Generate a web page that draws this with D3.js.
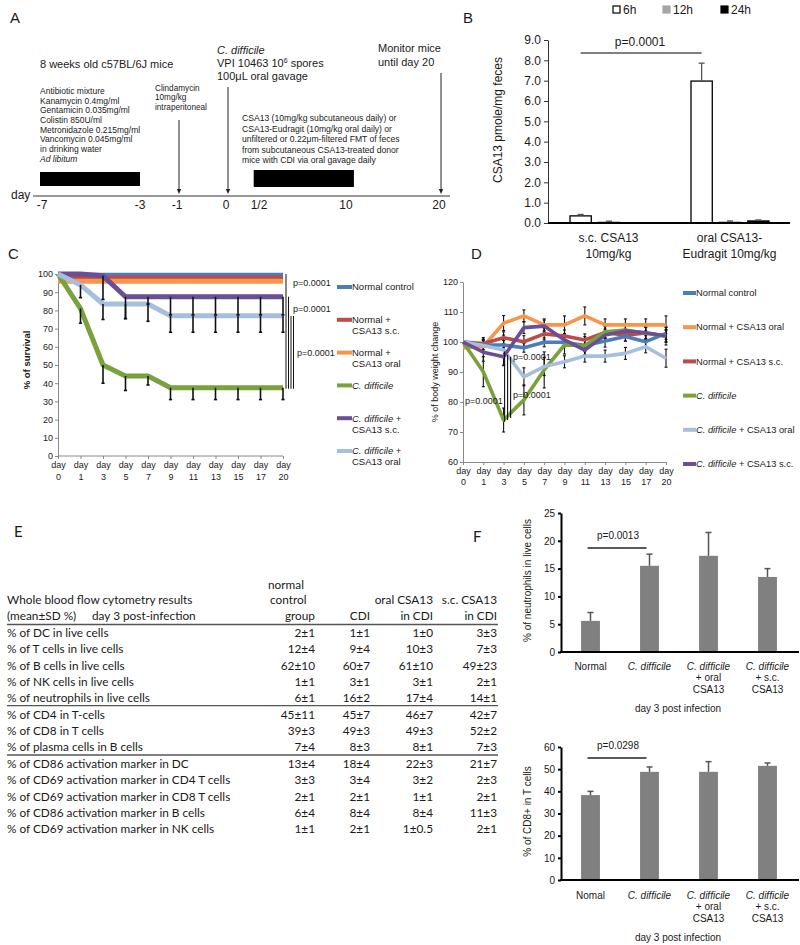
<!DOCTYPE html>
<html><head><meta charset="utf-8">
<script src="https://cdn.jsdelivr.net/npm/d3@7"></script>
<style>
body{margin:0;background:#fff}
svg{display:block}
text{font-family:"Liberation Sans",Arial,sans-serif;fill:#1a1a1a}
</style>
</head><body>
<svg id="fig" width="800" height="945"></svg>
<script>
// ================= DATA =================
// Panel A (timeline)
const timelineDays   = [-7, -3, -1, 0, 0.5, 10, 20];
const timelineLabels = ["-7", "-3", "-1", "0", "1/2", "10", "20"];
const antibioticLines = ["Antibiotic mixture","Kanamycin 0.4mg/ml","Gentamicin 0.035mg/ml","Colistin 850U/ml","Metronidazole 0.215mg/ml","Vancomycin 0.045mg/ml","in drinking water","Ad libitum"];
const clindaLines = ["Clindamycin","10mg/kg","intraperitoneal"];
const treatLines = ["CSA13 (10mg/kg subcutaneous daily) or","CSA13-Eudragit (10mg/kg oral daily) or","unfiltered or 0.22\u03bcm-filtered FMT of feces","from subcutaneous CSA13-treated donor","mice with CDI via oral gavage daily"];
const periodStart = [-7, 0.45];
const periodEnd   = [-3, 10.85];
const arrowDays   = [-1, 0, 20];

// Panel B
const bGroups = ["s.c. CSA13|10mg/kg", "oral CSA13-|Eudragit 10mg/kg"];
const bSeries = ["6h", "12h", "24h"];
const b6h  = [0.35, 6.98], b6hSD  = [0.07, 0.88];
const b12h = [0.05, 0.05], b12hSD = [0.04, 0.05];
const b24h = [0.01, 0.10], b24hSD = [0.00, 0.05];
const bTicks = [0,1,2,3,4,5,6,7,8,9];

// Panel C (survival)
const days = ["0","1","3","5","7","9","11","13","15","17","20"];
const survNormal   = [99.3,99.3,99.3,99.3,99.3,99.3,99.3,99.3,99.3,99.3,99.3];
const survNormalSC = [97.8,97.8,97.8,97.8,97.8,97.8,97.8,97.8,97.8,97.8,97.8];
const survNormalOr = [96,96,96,96,96,96,96,96,96,96,96];
const survCD       = [100,81,50,44,44,37.5,37.5,37.5,37.5,37.5,37.5];
const survCDSC     = [100,100,99,87.5,87.5,87.5,87.5,87.5,87.5,87.5,87.5];
const survCDOr     = [100,94,83.5,83.5,83.5,77,77,77,77,77,77];
const survCDErr    = [0,8,10,8,5,6.5,6.5,6.5,6.5,6.5,6.5];
const survCDSCErr  = [0,0,13,12,4,10,10,10,10,10,10];
const survCDOrErr  = [0,7,8.5,8,9.5,9,9,9,9,9,9];
const yTicksC = [0,10,20,30,40,50,60,70,80,90,100];

// Panel D (body weight)
const weightNames = ["Normal control","Normal + CSA13 oral","Normal + CSA13 s.c.","C. difficile","C. difficile + CSA13 oral","C. difficile + CSA13 s.c."];
const wNormal   = [100,99,99,98.1,99.9,99.9,98.8,100.3,101.8,100.1,102.9];
const wNormalOr = [98,98.5,106.3,108.7,105.7,105.7,108.7,105.7,105.7,105.7,105.7];
const wNormalSC = [100,99.5,101.4,100.1,102.7,102,100.7,103.2,102.3,103,102];
const wCD       = [100,90.1,74,80.7,90.7,99,98.8,103.4,104,102.9,102];
const wCDOr     = [100,98.8,97.3,88.4,91.8,93.4,95.3,95.3,96.2,98.4,94.6];
const wCDSC     = [100,96.6,95.1,104.8,105.3,100.7,97.3,102.3,103.7,103.1,102];
const wNormalErr   = [0,2,1.5,1.5,1.5,1.5,2,2,1.5,2,2];
const wNormalOrErr = [0,2,2.5,2,2,3,3,2,2,2,3];
const wNormalSCErr = [0,2,2,2,2,2,2,2,2,2,3];
const wCDErr       = [0,5,4,5,6,3,3,2,2,2,2];
const wCDOrErr     = [0,2,5,3,3,2,2,2,2,2,3];
const wCDSCErr     = [0,3,3,2,2,2,2,2,2,2,2];
const yTicksD = [60,70,80,90,100,110,120];

// Panel E (table)
const tableRows = ["% of DC in live cells","% of T cells in live cells","% of B cells in live cells","% of NK cells in live cells","% of neutrophils in live cells","% of CD4 in T-cells","% of CD8 in T cells","% of plasma cells in B cells","% of CD86 activation marker in DC","% of CD69 activation marker in CD4 T cells","% of CD69 activation marker in CD8 T cells","% of CD86 activation marker in B cells","% of CD69 activation marker in NK cells"];
const colNormal = ["2\u00b11","12\u00b14","62\u00b110","1\u00b11","6\u00b11","45\u00b111","39\u00b13","7\u00b14","13\u00b14","3\u00b13","2\u00b11","6\u00b14","1\u00b11"];
const colCDI    = ["1\u00b11","9\u00b14","60\u00b17","3\u00b11","16\u00b12","45\u00b17","49\u00b13","8\u00b13","18\u00b14","3\u00b14","2\u00b11","8\u00b14","2\u00b11"];
const colOral   = ["1\u00b10","10\u00b13","61\u00b110","3\u00b11","17\u00b14","46\u00b17","49\u00b13","8\u00b11","22\u00b13","3\u00b12","1\u00b11","8\u00b14","1\u00b10.5"];
const colSC     = ["3\u00b13","7\u00b13","49\u00b123","2\u00b11","14\u00b11","42\u00b17","52\u00b12","7\u00b13","21\u00b17","2\u00b13","2\u00b11","11\u00b13","2\u00b11"];
const tableSeparatorsAfter = [4, 7];

// Panel F
const fCats  = ["Normal","C. difficile","C. difficile|+ oral|CSA13","C. difficile|+ s.c.|CSA13"];
const fCats2 = ["Nomal","C. difficile","C. difficile|+ oral|CSA13","C. difficile|+ s.c.|CSA13"];
const neutro   = [5.6, 15.5, 17.3, 13.5];
const neutroSD = [1.5, 2.1, 4.2, 1.5];
const cd8      = [38.3, 48.8, 48.8, 51.5];
const cd8SD    = [1.7, 2.2, 4.6, 1.3];
const yTicksF1 = [0,5,10,15,20,25];
const yTicksF2 = [0,10,20,30,40,50,60];

// ================= DRAW =================
const svg = d3.select("#fig");
const col = {blue:"#4a7ebb", red:"#be4b48", orange:"#f7964a", green:"#79a23d", purple:"#6b4f96", light:"#a7bfdf"};

function label(g, x, y, s, o={}) {
  const t = g.append("text").attr("x", x).attr("y", y).attr("dy","0.35em")
    .attr("font-size", o.size || 10).attr("text-anchor", o.anchor || "start");
  if (o.family) t.style("font-family", o.family);
  if (o.weight) t.attr("font-weight", o.weight);
  if (o.italic) t.attr("font-style","italic");
  if (o.rotate) t.attr("transform", `rotate(-90,${x},${y})`);
  rich(t, s);
  return t;
}
function rich(t, s) {
  if (s.startsWith("C. difficile")) {
    t.append("tspan").attr("font-style","italic").text("C. difficile");
    const rest = s.slice(12);
    if (rest) t.append("tspan").text(rest);
  } else t.text(s);
}
function errBar(g, x, y1, y2, cap, color, w) {
  g.append("line").attr("x1",x).attr("x2",x).attr("y1",y1).attr("y2",y2).attr("stroke",color).attr("stroke-width",w||1.2);
  g.append("line").attr("x1",x-cap).attr("x2",x+cap).attr("y1",y2).attr("y2",y2).attr("stroke",color).attr("stroke-width",w||1.2);
}

// Panel letters
label(svg, 10, 18, "A", {size:15});
label(svg, 463, 18, "B", {size:15});
label(svg, 8, 254, "C", {size:15});
label(svg, 471, 254, "D", {size:15});
label(svg, 14, 532, "E", {size:15, family:"Lato"});
label(svg, 473, 537, "F", {size:15, family:"Lato"});

// ---------- Panel A ----------
{
  const g = svg.append("g");
  const xA = d3.scaleLinear().domain(timelineDays).range([42,140,177,226,259,346,439]);
  const axisY = 196;
  g.append("line").attr("x1",33).attr("x2",450).attr("y1",axisY).attr("y2",axisY).attr("stroke","#333").attr("stroke-width",1);
  label(g, 11, axisY-1, "day", {size:12});
  timelineDays.forEach((d,i)=> label(g, xA(d), 205, timelineLabels[i], {size:12, anchor:"middle"}));
  periodStart.forEach((s,i)=>{
    g.append("rect").attr("x", xA(s)-2).attr("y", i===0?172:170).attr("width", xA(periodEnd[i])-xA(s)+2)
      .attr("height", i===0?14:17).attr("fill","#000");
  });
  const arrowTop = [120, 87, 73];
  arrowDays.forEach((d,i)=>{
    const x = xA(d)+2;
    g.append("line").attr("x1",x).attr("x2",x).attr("y1",arrowTop[i]).attr("y2",191).attr("stroke","#222").attr("stroke-width",1);
    g.append("path").attr("d",`M${x-2.2},189 L${x+2.2},189 L${x},194 Z`).attr("fill","#222");
  });
  label(g, 40, 64, "8 weeks old c57BL/6J mice", {size:11});
  antibioticLines.forEach((s,i)=> label(g, 40, 91+i*9.7, s, {size:8.5, italic: i===7}));
  clindaLines.forEach((s,i)=> label(g, 155, 88+i*9.6, s, {size:8.2}));
  label(g, 217, 50, "C. difficile", {size:11});
  const t = g.append("text").attr("x",217).attr("y",63).attr("dy","0.35em").attr("font-size",11);
  t.append("tspan").text("VPI 10463 10");
  t.append("tspan").attr("font-size",7).attr("dy","-0.5em").text("6");
  t.append("tspan").attr("dy","0.3em").text(" spores");
  label(g, 217, 76, "100\u03bcL oral gavage", {size:11});
  label(g, 378, 48, "Monitor mice", {size:11});
  label(g, 378, 62, "until day 20", {size:11});
  treatLines.forEach((s,i)=> label(g, 242, 118+i*10.5, s, {size:8.6}));
}

// ---------- Panel B ----------
{
  const g = svg.append("g");
  const yB = d3.scaleLinear().domain([0,9]).range([223,40]);
  const x0 = d3.scaleBand().domain(bGroups).range([548,790]);
  const x1 = d3.scaleBand().domain(bSeries).range([22,100]).paddingInner(0.25);
  const vals = {"6h":[b6h,b6hSD], "12h":[b12h,b12hSD], "24h":[b24h,b24hSD]};
  const fill = {"6h":"#fff","12h":"#a6a6a6","24h":"#000"};
  const stroke = {"6h":"#000","12h":"#a6a6a6","24h":"#000"};
  bGroups.forEach((grp,gi)=>{
    bSeries.forEach(s=>{
      const v = vals[s][0][gi], sd = vals[s][1][gi];
      const x = x0(grp)+x1(s);
      g.append("rect").attr("x",x).attr("width",x1.bandwidth()).attr("y",yB(v)).attr("height",yB(0)-yB(v))
        .attr("fill",fill[s]).attr("stroke",stroke[s]).attr("stroke-width",1.3);
      if (sd>0) errBar(g, x+x1.bandwidth()/2, yB(v), yB(v+sd), 3, "#555", 1.3);
    });
  });
  const ya = g.append("g").attr("transform","translate(548,0)").call(d3.axisLeft(yB).tickValues(bTicks).tickFormat(d3.format(".1f")).tickSize(4).tickSizeOuter(0));
  ya.select(".domain").attr("stroke","#333").attr("stroke-width",1);
  ya.selectAll(".tick line").attr("stroke","#333");
  ya.selectAll("text").attr("font-size",12).style("font-family",'"Liberation Sans",Arial').attr("fill","#1a1a1a").attr("x",-7);
  g.append("line").attr("x1",548).attr("x2",790).attr("y1",yB(0)).attr("y2",yB(0)).attr("stroke","#000").attr("stroke-width",2);
  bGroups.forEach(grp=>{
    const cx = x0(grp)+x0.bandwidth()/2;
    grp.split("|").forEach((s,i)=> label(g, cx, 238+i*16, s, {size:12, anchor:"middle"}));
  });
  label(g, 498, 120, "CSA13 pmole/mg feces", {size:12, anchor:"middle", rotate:true});
  const xa = x0(bGroups[0])+x1("6h")+x1.bandwidth()/2, xb = x0(bGroups[1])+x1("6h")+x1.bandwidth()/2;
  g.append("line").attr("x1",xa).attr("x2",xb).attr("y1",53).attr("y2",53).attr("stroke","#000").attr("stroke-width",1.2);
  label(g, 640, 42, "p=0.0001", {size:12, anchor:"middle"});
  const lx = [613, 663, 721];
  bSeries.forEach((s,i)=>{
    g.append("rect").attr("x",lx[i]).attr("y",6).attr("width",7).attr("height",7).attr("fill",fill[s]).attr("stroke",stroke[s]).attr("stroke-width",1.2);
    label(g, lx[i]+10, 10, s, {size:12});
  });
}

// ---------- Panel C ----------
{
  const g = svg.append("g");
  const yC = d3.scaleLinear().domain([0,100]).range([456,274]);
  const xC = d3.scalePoint().domain(days).range([58,283]);
  const ya = g.append("g").attr("transform","translate(58,0)").call(d3.axisLeft(yC).tickValues(yTicksC).tickSize(3).tickSizeOuter(0));
  ya.select(".domain").attr("stroke","#888");
  ya.selectAll(".tick line").attr("stroke","#888");
  ya.selectAll("text").attr("font-size",9).style("font-family",'"Liberation Sans",Arial').attr("fill","#1a1a1a").attr("x",-5);
  const xa = g.append("g").attr("transform","translate(0,456)").call(d3.axisBottom(xC).tickSize(3).tickSizeOuter(0));
  xa.select(".domain").attr("stroke","#888").attr("d","M58,0H283");
  xa.selectAll(".tick line").attr("stroke","#888");
  xa.selectAll(".tick text").each(function(d){
    const t = d3.select(this).text(null).attr("font-size",9).style("font-family",'"Liberation Sans",Arial').attr("fill","#1a1a1a").attr("y",0).attr("dy",null);
    t.append("tspan").attr("x",0).attr("y",12).text("day");
    t.append("tspan").attr("x",0).attr("y",24).text(d);
  });
  label(g, 27, 360, "% of survival", {size:9.5, anchor:"middle", rotate:true, weight:"bold"});
  const series = [
    [survNormal, col.blue, null],[survNormalSC, col.red, null],[survNormalOr, col.orange, null],
    [survCD, col.green, survCDErr],[survCDSC, col.purple, survCDSCErr],[survCDOr, col.light, survCDOrErr]];
  const line = d3.line().x((d,i)=>xC(days[i])).y(d=>yC(d));
  series.forEach(([vals,c])=>{
    g.append("path").attr("d",line(vals)).attr("fill","none").attr("stroke",c).attr("stroke-width",5).attr("stroke-linejoin","round");
  });
  series.forEach(([vals,c,err])=>{
    if (!err) return;
    vals.forEach((v,i)=>{ if (err[i]>0) errBar(g, xC(days[i]), yC(v), yC(v-err[i]), 1.6, "#111", 1.6); });
  });
  const sigTop = [100, 87.5, 77, 77];
  sigTop.forEach((t,i)=>{
    const x = xC("20")+3+i*2.5;
    g.append("line").attr("x1",x).attr("x2",x).attr("y1",yC(t)).attr("y2",yC(37.5)+1).attr("stroke","#111").attr("stroke-width",1);
  });
  label(g, 293, 283, "p=0.0001", {size:9});
  label(g, 293, 309, "p=0.0001", {size:9});
  label(g, 297, 353, "p=0.0001", {size:9});
  const legC = [["Normal control"],["Normal +","CSA13 s.c."],["Normal +","CSA13 oral"],["C. difficile"],["C. difficile +","CSA13 s.c."],["C. difficile +","CSA13 oral"]];
  const legColor = [col.blue,col.red,col.orange,col.green,col.purple,col.light];
  legC.forEach((lines,i)=>{
    const y = 287 + i*32.8;
    g.append("line").attr("x1",337).attr("x2",352).attr("y1",y).attr("y2",y).attr("stroke",legColor[i]).attr("stroke-width",4);
    lines.forEach((s,j)=> label(g, 352, y+j*11, s, {size:9.5}));
  });
}

// ---------- Panel D ----------
{
  const g = svg.append("g");
  const yD = d3.scaleLinear().domain([60,120]).range([462,282]);
  const xD = d3.scalePoint().domain(days).range([463,666]);
  const ya = g.append("g").attr("transform","translate(463,0)").call(d3.axisLeft(yD).tickValues(yTicksD).tickSize(3).tickSizeOuter(0));
  ya.select(".domain").attr("stroke","#888");
  ya.selectAll(".tick line").attr("stroke","#888");
  ya.selectAll("text").attr("font-size",9).style("font-family",'"Liberation Sans",Arial').attr("fill","#1a1a1a").attr("x",-5);
  const xa = g.append("g").attr("transform","translate(0,462)").call(d3.axisBottom(xD).tickSize(3).tickSizeOuter(0));
  xa.select(".domain").attr("stroke","#888");
  xa.selectAll(".tick line").attr("stroke","#888");
  xa.selectAll(".tick text").each(function(d){
    const t = d3.select(this).text(null).attr("font-size",9).style("font-family",'"Liberation Sans",Arial').attr("fill","#1a1a1a").attr("y",0).attr("dy",null);
    t.append("tspan").attr("x",0).attr("y",12).text("day");
    t.append("tspan").attr("x",0).attr("y",23).text(d);
  });
  label(g, 435, 372, "% of body weight change", {size:9, anchor:"middle", rotate:true});
  const series = [
    [wNormal, col.blue, wNormalErr],[wNormalOr, col.orange, wNormalOrErr],[wNormalSC, col.red, wNormalSCErr],
    [wCD, col.green, wCDErr],[wCDOr, col.light, wCDOrErr],[wCDSC, col.purple, wCDSCErr]];
  series.forEach(([vals,c,err])=>{
    vals.forEach((v,i)=>{ if (err[i]>0) {
      errBar(g, xD(days[i]), yD(v), yD(v+err[i]), 1.5, "#111", 1.1);
      errBar(g, xD(days[i]), yD(v), yD(v-err[i]), 1.5, "#111", 1.1);
    }});
  });
  const line = d3.line().x((d,i)=>xD(days[i])).y(d=>yD(d));
  const drawOrder = [1,2,0,3,4,5];
  drawOrder.forEach(k=>{
    const [vals,c] = series[k];
    g.append("path").attr("d",line(vals)).attr("fill","none").attr("stroke",c).attr("stroke-width",3.6).attr("stroke-linejoin","round");
  });
  const sig = [[96.8,73.4],[95.7,74],[95.1,74.7]];
  sig.forEach(([a,b],i)=>{
    const x = xD("3")+1+i*3;
    g.append("line").attr("x1",x).attr("x2",x).attr("y1",yD(a)).attr("y2",yD(b)).attr("stroke","#111").attr("stroke-width",1.1);
  });
  label(g, 513, 357, "p=0.0001", {size:9});
  label(g, 513, 395, "p=0.0001", {size:9});
  label(g, 465, 401, "p=0.0001", {size:9});
  const legColor = [col.blue,col.orange,col.red,col.green,col.light,col.purple];
  weightNames.forEach((s,i)=>{
    const y = 293 + i*34.2;
    g.append("line").attr("x1",683).attr("x2",696).attr("y1",y).attr("y2",y).attr("stroke",legColor[i]).attr("stroke-width",4);
    label(g, 696, y, s, {size:9.3});
  });
}

// ---------- Panel E ----------
{
  const g = svg.append("g");
  const fam = "Lato, Carlito, Calibri, sans-serif";
  const fs = 11.8;
  const rowY = i => 633 + i*16.2 + (i>=5?0.5:0) + (i>=8?1:0);
  label(g, 268, 585, "normal", {size:fs, family:fam});
  label(g, 270, 600, "control", {size:fs, family:fam});
  label(g, 315, 616, "group", {size:fs, family:fam, anchor:"end"});
  label(g, 370, 616, "CDI", {size:fs, family:fam, anchor:"end"});
  label(g, 433, 600, "oral CSA13", {size:fs, family:fam, anchor:"end"});
  label(g, 433, 616, "in CDI", {size:fs, family:fam, anchor:"end"});
  label(g, 497, 600, "s.c. CSA13", {size:fs, family:fam, anchor:"end"});
  label(g, 497, 616, "in CDI", {size:fs, family:fam, anchor:"end"});
  label(g, 7, 600, "Whole blood flow cytometry results", {size:fs, family:fam});
  label(g, 7, 616, "(mean\u00b1SD %)", {size:fs, family:fam});
  label(g, 92, 616, "day 3 post-infection", {size:fs, family:fam});
  const hl = y => g.append("line").attr("x1",7).attr("x2",498).attr("y1",y).attr("y2",y).attr("stroke","#555").attr("stroke-width",1.3);
  hl(624.5);
  tableSeparatorsAfter.forEach(i=> hl((rowY(i)+rowY(i+1))/2 - 0.5));
  tableRows.forEach((r,i)=>{
    const y = rowY(i);
    label(g, 7, y, r, {size:fs, family:fam});
    label(g, 315, y, colNormal[i], {size:fs, family:fam, anchor:"end"});
    label(g, 370, y, colCDI[i], {size:fs, family:fam, anchor:"end"});
    label(g, 433, y, colOral[i], {size:fs, family:fam, anchor:"end"});
    label(g, 497, y, colSC[i], {size:fs, family:fam, anchor:"end"});
  });
}

// ---------- Panel F ----------
function fChart(cats, vals, sds, y0, y1, ymax, ticks, ylab, pText, pY, xlabY) {
  const g = svg.append("g");
  const y = d3.scaleLinear().domain([0,ymax]).range([y0,y1]);
  const x = d3.scaleBand().domain(cats).range([561,797]).paddingInner(0.68).paddingOuter(0.34);
  cats.forEach((c,i)=>{
    g.append("rect").attr("x",x(c)).attr("width",x.bandwidth()).attr("y",y(vals[i])).attr("height",y(0)-y(vals[i])).attr("fill","#808080");
    errBar(g, x(c)+x.bandwidth()/2, y(vals[i]), y(vals[i]+sds[i]), 3, "#555", 1.5);
  });
  const ya = g.append("g").attr("transform","translate(561,0)").call(d3.axisLeft(y).tickValues(ticks).tickSize(3).tickSizeOuter(0));
  ya.select(".domain").attr("stroke","#000").attr("stroke-width",2);
  ya.selectAll(".tick line").attr("stroke","#000").attr("stroke-width",2);
  ya.selectAll("text").attr("font-size",10).style("font-family",'"Liberation Sans",Arial').attr("fill","#1a1a1a").attr("x",-6);
  g.append("line").attr("x1",560).attr("x2",799).attr("y1",y(0)).attr("y2",y(0)).attr("stroke","#000").attr("stroke-width",2);
  cats.forEach(c=>{
    const cx = x(c)+x.bandwidth()/2;
    c.split("|").forEach((s,j)=> label(g, cx, xlabY+j*11.8, s, {size:10, anchor:"middle"}));
  });
  label(g, 678, xlabY+42, "day 3 post infection", {size:10, anchor:"middle"});
  label(g, 527, (y0+y1)/2 - 2, ylab, {size:10, anchor:"middle", rotate:true});
  const xa = x(cats[0])+x.bandwidth()/2 - 3, xb = x(cats[1])+x.bandwidth()/2 - 3;
  g.append("line").attr("x1",xa).attr("x2",xb).attr("y1",pY).attr("y2",pY).attr("stroke","#222").attr("stroke-width",1.3);
  label(g, (xa+xb)/2+1, pY-13, pText, {size:10, anchor:"middle"});
}
fChart(fCats, neutro, neutroSD, 652, 513, 25, yTicksF1, "% of neutrophils in live cells", "p=0.0013", 548, 666);
fChart(fCats2, cd8, cd8SD, 880, 747, 60, yTicksF2, "% of CD8+ in T cells", "p=0.0298", 758, 895);
</script>
</body></html>
